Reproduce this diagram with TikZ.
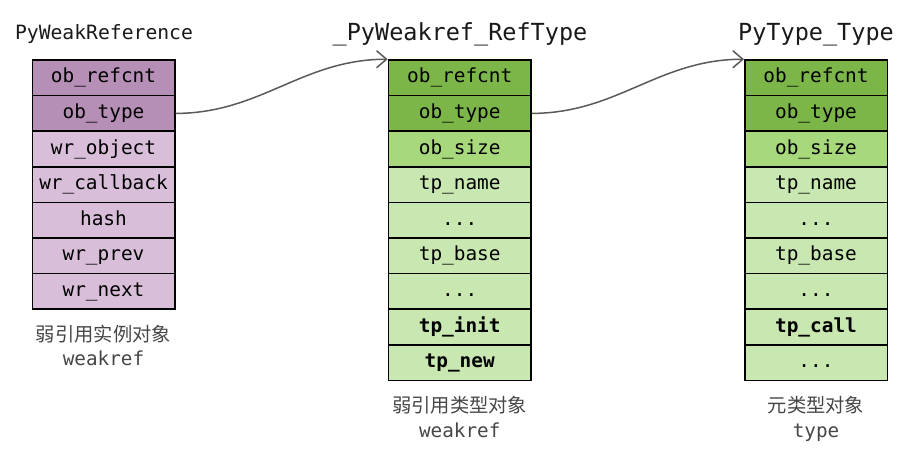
\documentclass[tikz,border=0pt]{standalone}
\usepackage{fontspec}
\setmonofont{DejaVu Sans Mono}
\newfontfamily\cjkfont{Noto Sans CJK SC}
\usetikzlibrary{arrows.meta}
\definecolor{pdark}{RGB}{181,143,181}
\definecolor{plight}{RGB}{216,190,216}
\definecolor{gdark}{RGB}{125,182,72}
\definecolor{gmid}{RGB}{167,216,123}
\definecolor{glight}{RGB}{200,231,177}
\definecolor{captiongray}{RGB}{70,70,70}
\definecolor{linkgray}{RGB}{90,90,90}
\newcommand{\tdots}{...}
\tikzset{
  cell/.style={draw=black, line width=1.5pt, rectangle, minimum width=142.5pt, minimum height=35.6pt,
    inner sep=0pt, text height=14.7pt, text depth=4.7pt,
    font=\ttfamily\fontsize{19.4}{23}\selectfont, text=black},
  title/.style={anchor=base, inner sep=0pt, text=black!90},
  smalltitle/.style={title, font=\ttfamily\fontsize{19.7}{23}\selectfont},
  bigtitle/.style={title, font=\ttfamily\fontsize{23.5}{27}\selectfont},
  capcn/.style={anchor=base, inner sep=0pt, text=captiongray, font=\cjkfont\fontsize{19.3}{23}\selectfont},
  capen/.style={anchor=base, inner sep=0pt, text=captiongray, font=\ttfamily\fontsize{19.3}{23}\selectfont},
  link/.style={draw=linkgray, line width=1.5pt, -{Straight Barb[length=10pt,width=17pt,line width=1.5pt]}},
}
\begin{document}
\begin{tikzpicture}[x=1pt,y=-1pt]
\useasboundingbox (0,0) rectangle (909,457);
% left table
\def\rh{35.6}
\foreach \i/\t/\c in {1/ob\_refcnt/pdark,2/ob\_type/pdark,3/wr\_object/plight,4/wr\_callback/plight,5/hash/plight,6/wr\_prev/plight,7/wr\_next/plight}{
  \node[cell, fill=\c] (a\i) at (103.5, {60+\rh*(\i-0.5)}) {\t};
}
\foreach \i/\t/\c in {1/ob\_refcnt/gdark,2/ob\_type/gdark,3/ob\_size/gmid,4/tp\_name/glight,5/\tdots/glight,6/tp\_base/glight,7/\tdots/glight,8/\textbf{tp\_init}/glight,9/\textbf{tp\_new}/glight}{
  \node[cell, fill=\c] (b\i) at (459.7, {60+\rh*(\i-0.5)}) {\t};
}
\foreach \i/\t/\c in {1/ob\_refcnt/gdark,2/ob\_type/gdark,3/ob\_size/gmid,4/tp\_name/glight,5/\tdots/glight,6/tp\_base/glight,7/\tdots/glight,8/\textbf{tp\_call}/glight,9/\tdots/glight}{
  \node[cell, fill=\c] (c\i) at (816, {60+\rh*(\i-0.5)}) {\t};
}
% titles
\node[smalltitle] (ta) at (104,39.5) {PyWeakReference};
\node[bigtitle] (tb) at (460,40.5) {\_PyWeakref\_RefType};
\node[bigtitle] (tc) at (816,40.5) {PyType\_Type};
% captions
\node[capcn] (ca1) at (103.5,341) {弱引用实例对象};
\node[capen] (ca2) at (103.5,365) {weakref};
\node[capcn] (cb1) at (459.7,412) {弱引用类型对象};
\node[capen] (cb2) at (459.7,437) {weakref};
\node[capcn] (cc1) at (816,412) {元类型对象};
\node[capen] (cc2) at (816,437) {type};
% links
\draw[link] (a2.east) to[out=0,in=180] (b1.north west);
\draw[link] (b2.east) to[out=0,in=180] (c1.north west);
\end{tikzpicture}
\end{document}
